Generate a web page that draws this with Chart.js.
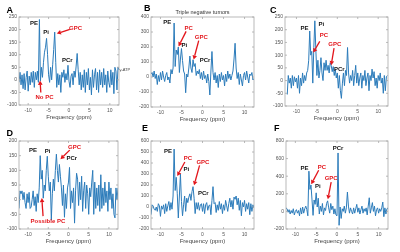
<!DOCTYPE html>
<html>
<head>
<meta charset="utf-8">
<script src="https://cdn.jsdelivr.net/npm/chart.js@4"></script>
<style>
  html, body { margin: 0; padding: 0; background: #fff; }
  #fig { position: relative; width: 400px; height: 252px; }
  #fig canvas { position: absolute; left: 0; top: 0; }
</style>
</head>
<body>
<div id="fig"></div>
<script>
// frequency grid (ppm), shared by all six spectra
const ppm = Array.from({ length: 99 }, (_, i) => -12.25 + i * 0.25);

const ampA = [
  -10,
  30, -20, 20, -35,     // -12
  25, -40, 10, 35,      // -11
  -45, 15, -20, 30,     // -10
  -10, 35, -30, 30,     // -9
  0, 35, -10, 240,      // -8
  -5, 50, 10, 70,       // -7
  110, 130, 165, 100,   // -6
  20, -10, 50, 0,       // -5
  60, 120, 190, 70,     // -4
  -30, 25, -20, 20,     // -3
  -50, 30, 10, 40,      // -2
  -10, 25, 0, 58,       // -1
  -5, -30, 15, 25,      // 0
  -20, 35, 10, 55,      // 1
  105, 40, -20, 30,     // 2
  -40, 20, -30, 40,     // 3
  -50, 30, -20, 45,     // 4
  -40, 10, -60, 40,     // 5
  -30, 20, 45, -40,     // 6
  30, -50, 40, -20,     // 7
  30, -30, 45, -20,     // 8
  20, -50, 35, -10,     // 9
  -30, 40, -20, 30,     // 10
  -55, 50, 35, -40,     // 11
  50, 40
];

const ampB = [
  20,
  30, 0, 40, -10,
  20, -50, 10, -30,
  30, -20, 40, 0,
  -30, 10, 30, -20,
  0, -40, 50, 20,
  60, 360, 70, 180,
  150, 200, 30, 120,
  190, 110, 40, 20,
  -105, 20, 0, 60,
  140, 60, 30, 115,
  70, 90, 10, 40,
  20, 50, -10, 30,
  -20, 40, -10, 10,
  -40, 20, -30, -120,
  40, 170, 30, -20,
  30, -40, 10, -70,
  20, -30, 30, -20,
  10, -60, 20, -30,
  40, -10, 20, -20,
  10, 40, 120, 225,
  60, -10, 30, -50,
  20, -20, -60, 10,
  30, -20, 40, 0,
  -40, 20, 10, 30,
  -20, -10
];

const ampC = [
  -55,
  20, -10, 10, -30,
  20, -20, 15, -5,
  10, -30, 20, -50,
  10, -20, 30, -10,
  20, 0, 30, 40,
  80, 195, 100, 115,
  -10, 130, 235, 120,
  20, 80, 10, 40,
  90, 30, 0, 70,
  40, 80, 40, 60,
  30, 70, 60, 35,
  55, 20, 45, 10,
  30, -30, 20, -40,
  -70, -10, 30, -20,
  40, 20, 130, 30,
  -10, 20, 0, 40,
  -20, 20, 60, -10,
  30, -20, 10, 30,
  -30, 20, 0, 40,
  -20, 10, 30, -40,
  20, 0, 45, 10,
  35, -20, 10, -30,
  20, 0, 30, -10,
  10, -50, 20, -40,
  15, 20
];

const ampD = [
  -30,
  30, 20, 30, 0,
  25, -10, -30, 20,
  -10, 25, -30, -25,
  0, 30, -20, 10,
  -40, 20, -10, 40,
  150, 70, 100, 5,
  50, 30, 100, 148,
  80, 30, 60, -70,
  20, 70, 30, 100,
  155, 100, 60, 120,
  80, 40, -20, 50,
  -60, 20, -30, 40,
  60, 110, -30, 30,
  -10, 40, -80, 30,
  90, 70, -20, 60,
  0, 80, -40, 30,
  60, -30, 50, 20,
  -50, 40, 10, 60,
  100, -50, 60, -30,
  40, -20, 50, -40,
  85, -30, 40, -20,
  60, -10, 30, -40,
  60, 0, 40, -30,
  20, -50, -62, 40,
  0, 40
];

const ampE = [
  -70,
  20, 10, -20, -30,
  0, -40, 30, 10,
  -85, 10, -20, 20,
  -60, 30, -40, 10,
  50, -30, 40, -20,
  100, 527, 150, 270,
  120, -100, 100, 300,
  50, -80, 20, 100,
  -40, 80, 40, 90,
  120, 60, 140, 185,
  80, -60, 40, -20,
  40, -30, 20, 30,
  -40, 30, -60, 20,
  40, -30, 10, 20,
  -70, 60, 185, 30,
  40, -50, 20, -30,
  50, -20, 30, -60,
  20, -30, 60, 10,
  -40, 30, 80, 0,
  60, -20, 90, 70,
  100, 20, 80, -30,
  60, -80, 40, 0,
  60, -40, 30, -20,
  40, -70, 30, -40,
  20, -10
];

const ampF = [
  40,
  30, -10, 20, -30,
  10, -20, 30, -40,
  0, 20, -20, 10,
  -50, 40, -30, 50,
  -20, 30, 60, 20,
  -50, 457, 250, 300,
  130, -45, 130, 80,
  211, 50, 150, -30,
  60, 0, 90, -40,
  40, 10, 90, 120,
  40, -20, 90, 20,
  60, -30, 30, -40,
  -50, 664, -158, 50,
  -80, 30, 0, 60,
  -20, 40, 220, 60,
  -20, 40, 0, -30,
  40, -20, 30, 80,
  -10, 40, -30, 20,
  60, -20, 30, 0,
  40, -40, 60, 155,
  -20, 40, 100, 0,
  60, -50, 20, 40,
  -20, 30, 0, 40,
  106, -60, 40, -30,
  30, 40
];

const xTicks = [-10, -5, 0, 5, 10];
const xTitle = 'Frequency (ppm)';
const titleB = 'Triple negative tumors';

const FONT = '"Liberation Sans", Arial, sans-serif';
const BLUE = '#2b7bba';
const RED = '#e3151b';
const INK = '#111';
const FRAME = '#a8a8a8';
const TICKCOL = '#555';
const Y_W = 16, X_H = 16;

const panels = [
  { letter: 'A', letterAt: [6.5, 13], box: [19, 17, 119, 105], x: [-12.25, 12.25], y: [-100, 250, 50], amp: ampA,
    labels: [['PE', -8.6, 223], ['Pi', -5.6, 190], ['PCr', -0.4, 78], ['GPC', 1.6, 206, 1], ['No PC', -6.0, -70, 1]],
    arrows: [[0.2, 201, -3.0, 184], [-6.9, -50, -7.1, -3]],
    extra: ['\u03b3-ATP', 12.35, 38] },
  { letter: 'B', letterAt: [144, 10.5], box: [151, 17, 254, 107], x: [-12.25, 12.25], y: [-200, 400, 100], amp: ampB,
    labels: [['PE', -8.4, 367], ['PC', -3.3, 322, 1], ['Pi', -4.3, 211], ['GPC', -0.3, 265, 1], ['PCr', 0.6, 109]],
    arrows: [[-3.9, 304, -5.7, 204], [-0.9, 242, -2.1, 116]],
    title: titleB },
  { letter: 'C', letterAt: [270, 13], box: [285, 17, 388, 106], x: [-12.8, 12.4], y: [-100, 250, 50], amp: ampC,
    labels: [['PE', -8.0, 207], ['Pi', -3.9, 220], ['PC', -3.25, 178, 1], ['GPC', -0.6, 141, 1], ['PCr', 0.5, 44]],
    arrows: [[-4.3, 154, -5.9, 110], [-0.8, 128, -1.5, 60]] },
  { letter: 'D', letterAt: [6.5, 135.5], box: [19, 141, 118, 229], x: [-12.25, 12.25], y: [-100, 200, 50], amp: ampD,
    labels: [['PE', -8.8, 169], ['Pi', -5.2, 164], ['GPC', 1.5, 180, 1], ['PCr', 0.8, 140], ['Possible PC', -5.1, -73, 1]],
    arrows: [[0.3, 169, -2.0, 138], [-6.3, -56, -6.6, 6]] },
  { letter: 'E', letterAt: [142, 131], box: [151, 141, 254, 229], x: [-12.25, 12.25], y: [-200, 600, 100], amp: ampE,
    labels: [['PE', -8.2, 509], ['PC', -3.45, 439, 1], ['Pi', -3.85, 342], ['GPC', 0.1, 409, 1], ['PCr', 0.2, 124]],
    arrows: [[-4.2, 409, -6.0, 282], [-0.7, 379, -2.0, 197]] },
  { letter: 'F', letterAt: [274, 131], box: [286, 141, 388, 229], x: [-12.25, 12.25], y: [-200, 800, 200], amp: ampF,
    labels: [['PE', -7.8, 486], ['PC', -3.6, 497, 1], ['Pi', -4.6, 281], ['GPC', -1.4, 372, 1], ['PCr', 0.25, 713]],
    arrows: [[-4.4, 467, -6.2, 308], [-1.4, 334, -2.2, 137]] }
];

function drawArrow(ctx, x1, y1, x2, y2) {
  const ang = Math.atan2(y2 - y1, x2 - x1);
  const head = 4.2, half = 2.3;
  const bx = x2 - head * Math.cos(ang), by = y2 - head * Math.sin(ang);
  ctx.beginPath();
  ctx.moveTo(x1, y1);
  ctx.lineTo(bx, by);
  ctx.stroke();
  ctx.beginPath();
  ctx.moveTo(x2, y2);
  ctx.lineTo(bx + half * Math.sin(ang), by - half * Math.cos(ang));
  ctx.lineTo(bx - half * Math.sin(ang), by + half * Math.cos(ang));
  ctx.closePath();
  ctx.fill();
}

function makeDecor(p) {
  return {
    id: 'decor' + p.letter,
    afterDatasetsDraw(chart) {
      const { ctx, chartArea: a, scales: { x, y } } = chart;
      ctx.save();

      // MATLAB style box with inward ticks
      ctx.strokeStyle = FRAME;
      ctx.lineWidth = 0.8;
      ctx.strokeRect(a.left, a.top, a.right - a.left, a.bottom - a.top);
      ctx.beginPath();
      x.ticks.forEach(t => {
        const px = x.getPixelForValue(t.value);
        ctx.moveTo(px, a.bottom); ctx.lineTo(px, a.bottom - 2);
        ctx.moveTo(px, a.top); ctx.lineTo(px, a.top + 2);
      });
      y.ticks.forEach(t => {
        const py = y.getPixelForValue(t.value);
        ctx.moveTo(a.left, py); ctx.lineTo(a.left + 2, py);
        ctx.moveTo(a.right, py); ctx.lineTo(a.right - 2, py);
      });
      ctx.stroke();

      // red arrows
      ctx.strokeStyle = RED;
      ctx.fillStyle = RED;
      ctx.lineWidth = 1.3;
      p.arrows.forEach(ar => drawArrow(ctx,
        x.getPixelForValue(ar[0]), y.getPixelForValue(ar[1]),
        x.getPixelForValue(ar[2]), y.getPixelForValue(ar[3])));

      // peak labels
      ctx.font = 'bold 6px ' + FONT;
      ctx.textAlign = 'center';
      ctx.textBaseline = 'middle';
      p.labels.forEach(l => {
        ctx.fillStyle = l[3] ? RED : INK;
        ctx.fillText(l[0], x.getPixelForValue(l[1]), y.getPixelForValue(l[2]));
      });

      if (p.extra) {
        ctx.font = '4px ' + FONT;
        ctx.fillStyle = '#444';
        ctx.textAlign = 'left';
        ctx.fillText(p.extra[0], x.getPixelForValue(p.extra[1]), y.getPixelForValue(p.extra[2]));
      }

      if (p.title) {
        ctx.font = '5.5px ' + FONT;
        ctx.fillStyle = '#333';
        ctx.textAlign = 'center';
        ctx.fillText(p.title, (a.left + a.right) / 2, a.top - 4.5);
      }

      // panel letter
      ctx.font = 'bold 9px ' + FONT;
      ctx.fillStyle = '#000';
      ctx.textAlign = 'left';
      ctx.textBaseline = 'alphabetic';
      ctx.fillText(p.letter, p.letterAt[0], p.letterAt[1]);
      ctx.restore();
    }
  };
}

Chart.defaults.font.family = FONT;
const fig = document.getElementById('fig');

panels.forEach(p => {
  const canvas = document.createElement('canvas');
  canvas.width = 400;
  canvas.height = 252;
  fig.appendChild(canvas);
  const [L, T, R, B] = p.box;

  new Chart(canvas, {
    type: 'line',
    data: {
      datasets: [{
        data: ppm.map((f, i) => ({ x: f, y: p.amp[i] })),
        borderColor: BLUE,
        borderWidth: 1,
        pointRadius: 0,
        tension: 0
      }]
    },
    options: {
      responsive: false,
      animation: false,
      devicePixelRatio: 1,
      layout: { padding: { left: L - Y_W, top: T, right: 400 - R, bottom: 252 - B - X_H } },
      plugins: { legend: { display: false }, tooltip: { enabled: false } },
      scales: {
        x: {
          type: 'linear',
          min: p.x[0],
          max: p.x[1],
          afterFit: s => { s.height = X_H; },
          afterBuildTicks: s => { s.ticks = xTicks.map(v => ({ value: v })); },
          ticks: { font: { size: 5 }, color: TICKCOL, padding: 3, maxRotation: 0, autoSkip: false },
          grid: { display: false, drawTicks: false },
          border: { display: false },
          title: { display: true, text: xTitle, font: { size: 6 }, color: '#444', padding: 0 }
        },
        y: {
          min: p.y[0],
          max: p.y[1],
          afterFit: s => { s.width = Y_W; },
          ticks: { stepSize: p.y[2], font: { size: 5 }, color: TICKCOL, padding: 2, autoSkip: false },
          grid: { display: false, drawTicks: false },
          border: { display: false }
        }
      }
    },
    plugins: [makeDecor(p)]
  });
});
</script>
</body>
</html>
